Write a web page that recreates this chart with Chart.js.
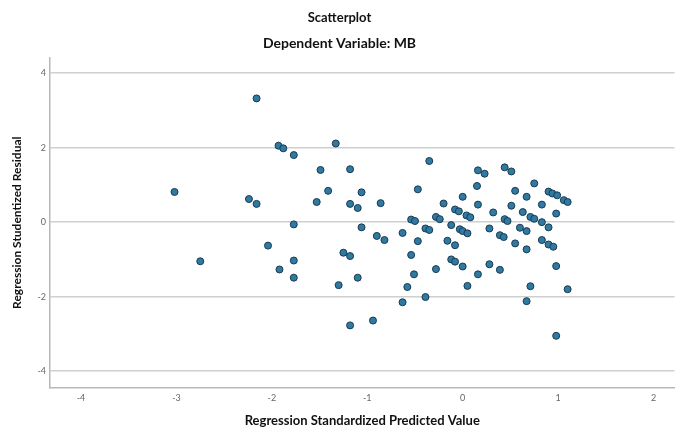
<!DOCTYPE html>
<html>
<head>
<meta charset="utf-8">
<script src="https://cdn.jsdelivr.net/npm/chart.js@4"></script>
<style>
  html, body { margin: 0; padding: 0; background: #fff; }
  #wrap { width: 679px; height: 430px; position: relative; }
</style>
</head>
<body>
<div id="wrap"><canvas id="chart"></canvas></div>
<script>
// Regression Standardized Predicted Value (x)
const predictedValues = [
  -3.02, -2.75, -2.16, -2.24, -2.16, -1.93, -1.88, -1.77, -1.77, -2.04,
  -1.77, -1.92, -1.77, -1.33, -1.49, -1.18, -0.35, -1.41, -1.06, -0.47,
  -1.53, -1.18, -1.10, -0.86, -0.54, -0.50, -0.28, -0.24, -1.06, -0.90,
  -0.82, -0.63, -0.39, -0.35, -0.47, -0.54, -1.25, -1.18, -0.28, -0.51,
  -1.10, -1.30, -0.58, -0.39, -0.63, -0.94, -1.18, 0.16, 0.23, 0.44,
  0.51, 0.15, 0.75, 0.55, 0.90, 0.94, 0.99, 0.67, 1.06, 1.10,
  0.00, -0.20, 0.16, 0.51, 0.83, 0.32, 0.63, -0.08, -0.04, 0.04,
  0.08, 0.98, 0.44, 0.47, 0.71, 0.75, 0.83, -0.12, -0.03, 0.00,
  0.05, 0.28, 0.60, 0.67, 0.90, 0.39, 0.43, -0.16, -0.08, 0.83,
  0.90, 0.95, 0.55, 0.67, -0.12, -0.08, 0.00, 0.28, 0.39, 0.16,
  0.98, 0.05, 0.71, 1.10, 0.67, 0.98
];

// Regression Studentized Residual (y)
const residuals = [
  0.81, -1.05, 3.32, 0.62, 0.49, 2.05, 1.98, 1.80, -0.06, -0.63,
  -1.03, -1.27, -1.49, 2.11, 1.40, 1.42, 1.64, 0.84, 0.80, 0.88,
  0.54, 0.49, 0.38, 0.51, 0.07, 0.03, 0.14, 0.08, -0.14, -0.37,
  -0.48, -0.29, -0.17, -0.21, -0.51, -0.88, -0.82, -0.91, -1.26, -1.40,
  -1.49, -1.69, -1.74, -2.01, -2.15, -2.64, -2.77, 1.39, 1.30, 1.47,
  1.36, 0.97, 1.04, 0.84, 0.82, 0.77, 0.72, 0.68, 0.59, 0.54,
  0.68, 0.50, 0.47, 0.44, 0.47, 0.26, 0.27, 0.34, 0.29, 0.18,
  0.13, 0.23, 0.08, 0.03, 0.14, 0.09, 0.00, -0.08, -0.19, -0.24,
  -0.30, -0.17, -0.15, -0.24, -0.14, -0.35, -0.40, -0.50, -0.62, -0.48,
  -0.60, -0.66, -0.57, -0.73, -1.00, -1.06, -1.19, -1.13, -1.28, -1.40,
  -1.18, -1.71, -1.72, -1.80, -2.12, -3.05
];

const xTicks = [-4, -3, -2, -1, 0, 1, 2];
const yTicks = [-4, -2, 0, 2, 4];

const tickFont = { family: 'Lato', size: 9 };

const points = predictedValues.map((x, i) => ({ x: x, y: residuals[i] }));

new Chart(document.getElementById('chart'), {
  type: 'scatter',
  data: {
    datasets: [{
      label: 'MB',
      data: points,
      backgroundColor: '#2f79a3',
      borderColor: '#183b50',
      borderWidth: 1,
      pointRadius: 3.5,
      pointHoverRadius: 3.5
    }]
  },
  options: {
    responsive: true,
    maintainAspectRatio: false,
    animation: false,
    layout: { padding: 0 },
    plugins: {
      legend: { display: false },
      tooltip: { enabled: false },
      title: {
        display: true,
        text: 'Scatterplot',
        color: '#111',
        font: { family: 'Lato', size: 13, weight: 'bold' },
        padding: { top: 10, bottom: 0 }
      },
      subtitle: {
        display: true,
        text: 'Dependent Variable: MB',
        color: '#111',
        font: { family: 'Lato', size: 14, weight: 'bold' },
        padding: { top: 9, bottom: 6 }
      }
    },
    scales: {
      x: {
        type: 'linear',
        min: -4.325,
        max: 2.22,
        afterFit: (scale) => { scale.height = 42; },
        afterBuildTicks: (scale) => {
          scale.ticks = xTicks.map(v => ({ value: v }));
        },
        ticks: {
          color: '#666',
          font: tickFont,
          padding: 5,
          maxRotation: 0,
          callback: (v) => v
        },
        grid: { drawOnChartArea: false, drawTicks: false },
        border: { display: true, color: '#b8b8b8', width: 1.5 },
        title: {
          display: true,
          text: 'Regression Standardized Predicted Value',
          color: '#111',
          font: { family: 'Lato', size: 13, weight: 'bold' },
          padding: { top: 0, bottom: 1 }
        }
      },
      y: {
        type: 'linear',
        min: -4.45,
        max: 4.42,
        afterFit: (scale) => { scale.width = 50; },
        afterBuildTicks: (scale) => {
          scale.ticks = yTicks.map(v => ({ value: v }));
        },
        ticks: {
          color: '#666',
          font: tickFont,
          padding: 4,
          callback: (v) => v
        },
        grid: { color: '#cfcfcf', lineWidth: 1.5, drawTicks: false },
        border: { display: true, color: '#b8b8b8', width: 1.5 },
        title: {
          display: true,
          text: 'Regression Studentized Residual',
          color: '#111',
          font: { family: 'Lato', size: 12, weight: 'bold' },
          padding: { top: 10, bottom: 0 }
        }
      }
    }
  }
});
</script>
</body>
</html>
